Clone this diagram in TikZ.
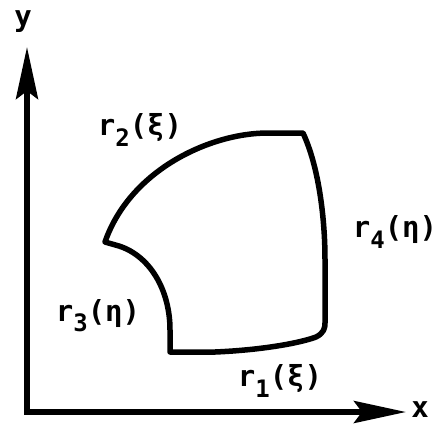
\documentclass[tikz,border=0pt]{standalone}
\usepackage{fontspec}
\setmainfont{DejaVu Sans Mono}
\usetikzlibrary{arrows.meta}
\newcommand{\lowsub}[1]{\raisebox{-0.35em}{\fontsize{24}{24}\selectfont #1}}
\begin{document}
\begin{tikzpicture}[x=1pt,y=-1pt,
  lbl/.style={font=\fontsize{29}{29}\selectfont\bfseries, inner sep=0pt},
  axis/.style={line width=5.5pt, -{Stealth[length=52pt,width=22pt,inset=8pt]}},
  edge/.style={line width=5.5pt, line join=round, line cap=round}]
\useasboundingbox (0,0) rectangle (444,424);
\coordinate (O) at (27,412);
\coordinate (Y) at (27,47);
\coordinate (X) at (406,412);
\draw[axis] (O) -- (Y);
\draw[axis] ([xshift=-2.75pt]O) -- (X);
\node[lbl] (ylab) at (23,22) {y};
\node[lbl] (xlab) at (420,410) {x};
% shape
\coordinate (A) at (170,352);
\coordinate (B) at (325,323);
\coordinate (C) at (303,133);
\coordinate (D) at (105,242);
\draw[edge] (A) -- (215,352) .. controls (262,350) and (300,343) .. (316,337)
  .. controls (324,333) and (325,328) .. (B)
  -- (325,260) .. controls (325,215) and (318,165) .. (C)
  -- (268,133) .. controls (210,133) and (130,170) .. (D)
  -- (119,246) .. controls (150,256) and (170,290) .. (170,330) -- cycle;
\node[lbl] (r2) at (140,130) {r\lowsub{2}(ξ)};
\node[lbl] (r4) at (395,232) {r\lowsub{4}(η)};
\node[lbl] (r3) at (98,316) {r\lowsub{3}(η)};
\node[lbl] (r1) at (280,381) {r\lowsub{1}(ξ)};
\end{tikzpicture}
\end{document}
